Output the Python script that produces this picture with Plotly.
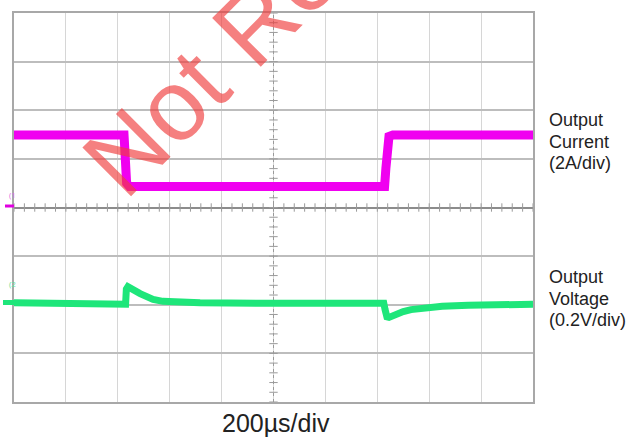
import numpy as np
import plotly.graph_objects as go

# ---- data (time in microseconds, amplitude in screen divisions) ----
current_t = [0, 424, 427, 430, 434, 445, 1428, 1433, 1438, 1445, 1460, 2000]
current_div = [1.49, 1.49, 1.20, 0.75, 0.50, 0.43, 0.43, 0.80, 1.30, 1.46, 1.49, 1.49]

voltage_t = [0, 420, 430, 433, 439, 486, 536, 574, 717, 1000, 1425, 1430, 1437, 1445,
             1470, 1500, 1530, 1580, 1650, 1750, 1900, 2000]
voltage_div = [-1.96, -1.98, -1.99, -1.68, -1.63, -1.77, -1.89, -1.93, -1.96, -1.97, -1.97,
               -2.10, -2.25, -2.26, -2.19, -2.14, -2.10, -2.06, -2.03, -2.01, -1.99, -1.99]

label_current = ["Output", "Current", "(2A/div)"]
label_voltage = ["Output", "Voltage", "(0.2V/div)"]
time_label = "200µs/div"
watermark = "Not Recommended"

# graticule
x_div = 200
center_x = 1000
minor_x = np.arange(0, 2001, 40)
minor_y = np.arange(-4, 4.01, 0.2)

fig = go.Figure()

# center graticule lines with minor ticks
fig.add_trace(go.Scatter(x=[center_x, center_x], y=[-4, 4], mode="lines",
                         line=dict(color="#9a9a9a", width=1, dash="dot"),
                         hoverinfo="skip", showlegend=False))
fig.add_trace(go.Scatter(x=minor_x, y=np.zeros_like(minor_x), mode="markers",
                         marker=dict(symbol="line-ns", size=6,
                                     line=dict(color="#9a9a9a", width=1)),
                         hoverinfo="skip", showlegend=False))
fig.add_trace(go.Scatter(x=np.full_like(minor_y, center_x), y=minor_y, mode="markers",
                         marker=dict(symbol="line-ew", size=6,
                                     line=dict(color="#9a9a9a", width=1)),
                         hoverinfo="skip", showlegend=False))

# traces
fig.add_trace(go.Scatter(x=current_t, y=current_div, mode="lines",
                         line=dict(color="#f000f0", width=9),
                         hoverinfo="skip", showlegend=False))
fig.add_trace(go.Scatter(x=voltage_t, y=voltage_div, mode="lines",
                         line=dict(color="#1ee67a", width=7),
                         hoverinfo="skip", showlegend=False))

# plot area geometry helpers (paper units)
L, R, T, B = 14, 94, 11, 36
W, H = 627, 438
pw, ph = W - L - R, H - T - B


def px(xp):
    return (xp - L) / pw


def py(yp):
    return (H - B - yp) / ph


annotations = []
font_lab = dict(family="Liberation Sans, Arial, sans-serif", size=18, color="#222222")
for i, txt in enumerate(label_current):
    annotations.append(dict(x=px(547), y=py([118.8, 140.8, 161.8][i]), xref="paper", yref="paper",
                            text=txt, showarrow=False, xanchor="left", yanchor="middle",
                            font=font_lab))
for i, txt in enumerate(label_voltage):
    annotations.append(dict(x=px(547), y=py([276.8, 298.8, 319.8][i]), xref="paper", yref="paper",
                            text=txt, showarrow=False, xanchor="left", yanchor="middle",
                            font=font_lab))
annotations.append(dict(x=px(276), y=py(423), xref="paper", yref="paper", text=time_label,
                        showarrow=False, xanchor="center", yanchor="middle",
                        font=dict(family="Liberation Sans, Arial, sans-serif", size=25,
                                  color="#222222")))
# channel markers
annotations.append(dict(x=px(7), y=py(193), xref="paper", yref="paper", text="(1",
                        showarrow=False, font=dict(size=8, color="#e070e0")))
annotations.append(dict(x=px(7), y=py(290), xref="paper", yref="paper", text="(2",
                        showarrow=False, font=dict(size=8, color="#60e0a0")))
# watermark
annotations.append(dict(x=px(404.6), y=py(-130.2), xref="paper", yref="paper", text=watermark,
                        showarrow=False, textangle=-45, xanchor="center", yanchor="middle",
                        font=dict(family="Liberation Sans, Arial, sans-serif", size=100,
                                  color="rgba(240,60,60,0.65)")))

shapes = [
    dict(type="line", xref="paper", yref="paper", x0=px(5), x1=px(14), y0=py(205), y1=py(205),
         line=dict(color="#e000e0", width=3)),
    dict(type="line", xref="paper", yref="paper", x0=px(3), x1=px(14), y0=py(302), y1=py(302),
         line=dict(color="#1ee67a", width=5)),
]

fig.update_layout(
    width=W, height=H,
    margin=dict(l=L, r=R, t=T, b=B, pad=0),
    paper_bgcolor="white", plot_bgcolor="white",
    showlegend=False,
    annotations=annotations,
    shapes=shapes,
    xaxis=dict(range=[0, 2000], dtick=x_div, tick0=0, showticklabels=False, ticks="",
               showgrid=True, gridcolor="#d6d6d6", gridwidth=1, zeroline=False,
               showline=True, linecolor="#a8a8a8", linewidth=1.5, mirror=True, fixedrange=True),
    yaxis=dict(range=[-4, 4], dtick=1, tick0=0, showticklabels=False, ticks="",
               showgrid=True, gridcolor="#bdbdbd", gridwidth=1.5,
               zeroline=True, zerolinecolor="#8c8c8c", zerolinewidth=1.5,
               showline=True, linecolor="#a8a8a8", linewidth=1.5, mirror=True, fixedrange=True),
)

fig.write_html("out.html", config={"displayModeBar": False},
               post_script="document.body.style.margin='0';document.body.style.overflow='hidden';")
